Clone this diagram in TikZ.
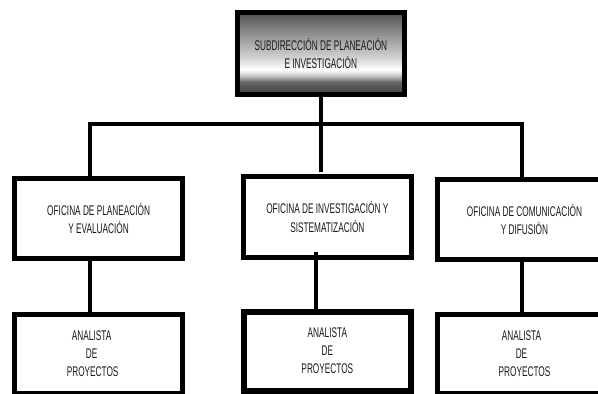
\documentclass[tikz,border=0pt]{standalone}
\usepackage{fontspec}
\setmainfont{Liberation Sans}[FakeStretch=0.59]
\pgfdeclareverticalshading{metal}{100bp}{color(0bp)=(black!75); color(25bp)=(black!75); color(32.5bp)=(black!60); color(36bp)=(black!25); color(40bp)=(white); color(47.5bp)=(black!18); color(60bp)=(black!40); color(75bp)=(black!68); color(100bp)=(black!68)}
\tikzset{
  box/.style={draw=black, line width=5pt, fill=white, rectangle, inner sep=0pt, align=center,
    text=black!90, font=\fontsize{14}{18.5}\selectfont},
  anabox/.style={box, font=\fontsize{14}{18}\selectfont},
  link/.style={line width=4pt, draw=black},
}
\begin{document}
\begin{tikzpicture}[x=1pt, y=-1pt]
\useasboundingbox (0,0) rectangle (598,394);
\clip (0,0) rectangle (598,394);
\fill[white] (0,0) rectangle (598,394);

% top box
\node[box, shading=metal, minimum width=166.7pt, minimum height=81.7pt] (top) at (320.85,53.35)
  {SUBDIRECCIÓN DE PLANEACIÓN\\E INVESTIGACIÓN};

% offices
\node[box, minimum width=167.7pt, minimum height=80pt] (off1) at (98.65,218.5)
  {OFICINA DE PLANEACIÓN\\Y EVALUACIÓN};
\node[box, minimum width=168.3pt, minimum height=81pt] (off2) at (327.35,217.2)
  {OFICINA DE INVESTIGACIÓN Y\\SISTEMATIZACIÓN};
\node[box, minimum width=174pt, minimum height=80pt] (off3) at (524.5,219.3)
  {OFICINA DE COMUNICACIÓN\\Y DIFUSIÓN};

% analysts
\node[anabox, minimum width=167.7pt, minimum height=79.3pt] (ana1) at (98.65,353.85)
  {\hspace*{-14pt}ANALISTA\\\hspace*{-14pt}DE\hspace*{18pt}\\\hspace*{-12pt}PROYECTOS};
\node[anabox, line width=6pt, minimum width=167.3pt, minimum height=79pt] (ana2) at (327.35,351)
  {ANALISTA\\DE\\PROYECTOS};
\node[anabox, minimum width=174pt, minimum height=79.3pt] (ana3) at (524.5,353.85)
  {\hspace*{-6pt}ANALISTA\\\hspace*{-6pt}DE\\PROYECTOS};

% bus coordinates
\coordinate (busL) at (89.5,124);
\coordinate (busR) at (521.5,124);
\coordinate (stem) at (320.5,124);

% connectors
\draw[link, miter limit=10] (busL |- off1.north) -- (busL) -- (busR) -- (busR |- off3.north);
\draw[link] (top.south -| stem) -- (stem) -- ([yshift=2pt]stem |- off2.north);
\coordinate (l1) at (90,0);
\coordinate (l2) at (315.7,0);
\coordinate (l3) at (522,0);
\draw[link] (l1 |- off1.south) -- (l1 |- ana1.north);
\draw[link] ([yshift=8pt]l2 |- off2.south) -- (l2 |- ana2.north);
\draw[link] (l3 |- off3.south) -- (l3 |- ana3.north);
\end{tikzpicture}
\end{document}
